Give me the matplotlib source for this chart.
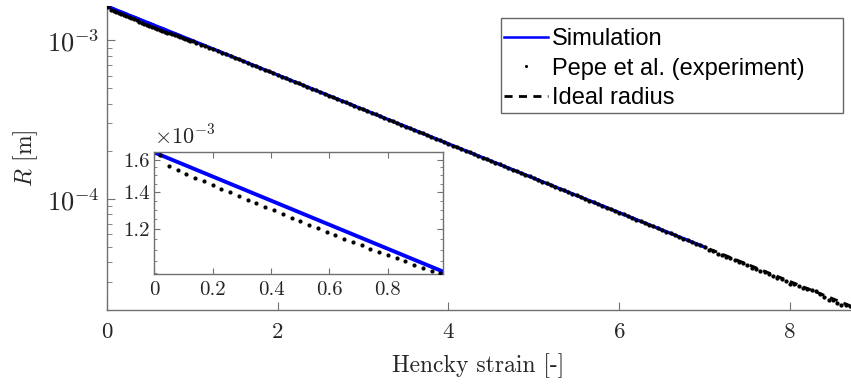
import matplotlib
matplotlib.use("Agg")
import matplotlib.pyplot as plt
from matplotlib.ticker import FixedLocator, FuncFormatter, NullFormatter, LogLocator
from matplotlib.patches import Rectangle

# ---------------- data (radius in units of 1e-3 m) ----------------
SIM_STRAIN = [0.0, 0.5, 1.0, 1.5, 2.0, 2.5, 3.0, 3.5, 4.0, 4.5, 5.0, 5.5, 6.0, 6.5, 7.0]
SIM_R_MM = [1.6500, 1.2850, 1.0008, 0.7794, 0.6070, 0.4727, 0.3682, 0.2867, 0.2233,
            0.1739, 0.1354, 0.1055, 0.08215, 0.06398, 0.04983]

IDEAL_STRAIN = [0.0, 8.7]
IDEAL_R_MM = [1.6500, 0.02130]

EXP_STRAIN = [
    0.02, 0.05, 0.08, 0.11, 0.14, 0.17, 0.20, 0.23, 0.26, 0.29, 0.32, 0.35, 0.38, 0.41,
    0.44, 0.47, 0.50, 0.53, 0.56, 0.59, 0.62, 0.65, 0.68, 0.71, 0.74, 0.77, 0.80, 0.83,
    0.86, 0.89, 0.92, 0.95, 0.98, 1.01,
    1.05, 1.10, 1.15, 1.20, 1.25, 1.30, 1.35, 1.40, 1.45, 1.50, 1.55, 1.60, 1.65, 1.70,
    1.75, 1.80, 1.85, 1.90, 1.95, 2.00, 2.05, 2.10, 2.15, 2.20, 2.25, 2.30, 2.35, 2.40,
    2.45, 2.50, 2.55, 2.60, 2.65, 2.70, 2.75, 2.80, 2.85, 2.90, 2.95, 3.00, 3.05, 3.10,
    3.15, 3.20, 3.25, 3.30, 3.35, 3.40, 3.45, 3.50, 3.55, 3.60, 3.65, 3.70, 3.75, 3.80,
    3.85, 3.90, 3.95, 4.00, 4.05, 4.10, 4.15, 4.20, 4.25, 4.30, 4.35, 4.40, 4.45, 4.50,
    4.55, 4.60, 4.65, 4.70, 4.75, 4.80, 4.85, 4.90, 4.95, 5.00, 5.05, 5.10, 5.15, 5.20,
    5.25, 5.30, 5.35, 5.40, 5.45, 5.50, 5.55, 5.60, 5.65, 5.70, 5.75, 5.80, 5.85, 5.90,
    5.95, 6.00, 6.05, 6.10, 6.15, 6.20, 6.25, 6.30, 6.35, 6.40, 6.45, 6.50, 6.55, 6.60,
    6.65, 6.70, 6.75, 6.80, 6.85, 6.90, 6.95, 7.00, 7.05, 7.10, 7.15, 7.20, 7.25, 7.30,
    7.35, 7.40, 7.45, 7.50, 7.55, 7.60, 7.65, 7.70, 7.75, 7.80, 7.85, 7.90, 7.95, 8.00,
    8.05, 8.10, 8.15, 8.20, 8.25, 8.30, 8.35, 8.40, 8.45, 8.50, 8.55, 8.60, 8.65, 8.70,
]
EXP_R_MM = [
    1.634, 1.561, 1.531, 1.507, 1.485, 1.463, 1.441, 1.419, 1.398, 1.377, 1.357, 1.337,
    1.317, 1.297, 1.278, 1.259, 1.240, 1.222, 1.204, 1.186, 1.169, 1.153, 1.137, 1.122,
    1.107, 1.093, 1.078, 1.064, 1.050, 1.036, 1.023, 1.010, 0.9985, 0.9858,
    0.9663, 0.9425, 0.9192, 0.8983, 0.8779, 0.8579, 0.8384, 0.8194, 0.7991, 0.7794,
    0.7602, 0.7414, 0.7231, 0.7052, 0.6878, 0.6708, 0.6543, 0.6381, 0.6224, 0.6070,
    0.5920, 0.5774, 0.5631, 0.5492, 0.5357, 0.5225, 0.5096, 0.4970, 0.4847, 0.4727,
    0.4611, 0.4497, 0.4386, 0.4277, 0.4172, 0.4069, 0.3968, 0.3870, 0.3775, 0.3682,
    0.3591, 0.3502, 0.3416, 0.3331, 0.3249, 0.3169, 0.3091, 0.3014, 0.2940, 0.2867,
    0.2796, 0.2727, 0.2660, 0.2594, 0.2530, 0.2468, 0.2407, 0.2348, 0.2290, 0.2233,
    0.2178, 0.2124, 0.2072, 0.2021, 0.1971, 0.1922, 0.1875, 0.1828, 0.1783, 0.1739,
    0.1696, 0.1654, 0.1613, 0.1574, 0.1535, 0.1497, 0.1460, 0.1424, 0.1389, 0.1354,
    0.1321, 0.1288, 0.1257, 0.1226, 0.1195, 0.1166, 0.1137, 0.1109, 0.1082, 0.1055,
    0.1029, 0.1003, 0.09786, 0.09544, 0.09309, 0.09079, 0.08855, 0.08636, 0.08423, 0.08215,
    0.08012, 0.07814, 0.07621, 0.07433, 0.07250, 0.07071, 0.06896, 0.06726, 0.06560, 0.06398,
    0.06240, 0.06086, 0.05935, 0.05789, 0.05646, 0.05507, 0.05371, 0.05238, 0.05109, 0.04983,
    0.04787, 0.04692, 0.04530, 0.04454, 0.04318, 0.04254, 0.04116, 0.03990, 0.03939, 0.03826,
    0.03694, 0.03647, 0.03535, 0.03483, 0.03349, 0.03286, 0.03176, 0.03136, 0.03037, 0.02937,
    0.02903, 0.02846, 0.02742, 0.02702, 0.02662, 0.02627, 0.02524, 0.02412, 0.02329, 0.02302,
    0.02227, 0.02154, 0.02151, 0.02108,
]

MAIN_XTICKS = [0, 2, 4, 6, 8]
INSET_XTICKS = [0, 0.2, 0.4, 0.6, 0.8]
INSET_YTICKS_MM = [1.2, 1.4, 1.6]
INSET_YMINOR_MM = [1.0, 1.05, 1.1, 1.15, 1.25, 1.3, 1.35, 1.45, 1.5, 1.55, 1.65]

LABEL_SIM = "Simulation"
LABEL_EXP = "Pepe et al. (experiment)"
LABEL_IDEAL = "Ideal radius"

# ---------------- style ----------------
plt.rcParams.update({
    "font.family": "serif",
    "font.serif": ["cmr10"],
    "mathtext.fontset": "cm",
    "axes.formatter.use_mathtext": True,
    "axes.unicode_minus": True,
})

SPINE = "#707070"
TXT = "#262626"
BLUE = "#0000ff"
DASH = (0, (2.9, 2.3))

to_m = lambda vals: [v * 1e-3 for v in vals]

fig = plt.figure(figsize=(8.51, 3.87), dpi=100)
W, H = 851.0, 387.0

# ---------------- main axes ----------------
ax = fig.add_axes([106.7 / W, 1 - 310 / H, (850 - 106.7) / W, (310 - 6) / H])
h_ideal, = ax.plot(IDEAL_STRAIN, to_m(IDEAL_R_MM), color="k", ls=DASH, lw=2.0, zorder=1,
                   label=LABEL_IDEAL)
h_sim, = ax.plot(SIM_STRAIN, to_m(SIM_R_MM), color=BLUE, lw=2.3, zorder=2, label=LABEL_SIM)
h_exp, = ax.plot(EXP_STRAIN, to_m(EXP_R_MM), ls="none", marker=".", ms=4.1, color="k",
                 zorder=3, label=LABEL_EXP)
ax.set_yscale("log")
ax.set_xlim(0, 8.7)
ax.set_ylim(2.0e-5, 1.65e-3)
ax.set_xticks(MAIN_XTICKS)
ax.set_xticklabels([str(t) for t in MAIN_XTICKS])
ax.yaxis.set_major_locator(LogLocator(base=10))
ax.yaxis.set_minor_locator(LogLocator(base=10, subs=range(2, 10)))
ax.yaxis.set_minor_formatter(NullFormatter())
for s in ("top", "right"):
    ax.spines[s].set_visible(False)
for s in ("left", "bottom"):
    ax.spines[s].set_color(SPINE)
    ax.spines[s].set_linewidth(1.0)
ax.tick_params(which="both", direction="in", color=SPINE, labelcolor=TXT)
ax.tick_params(axis="x", which="major", length=6, pad=9, labelsize=16.5)
ax.tick_params(axis="y", which="major", length=6, pad=5, labelsize=19)
ax.tick_params(axis="y", which="minor", length=3.5)

ax.set_xlabel("Hencky strain [-]", fontsize=17, color=TXT)
ax.xaxis.set_label_coords(0.5, -0.142)
ax.set_ylabel(r"$R$ [m]", fontsize=17, color=TXT)
ax.yaxis.set_label_coords(-0.09, 0.5)

# legend frame (MATLAB-like with wide right margin)
ax.add_patch(Rectangle((501 / W, 1 - 113 / H), 342 / W, 95 / H, transform=fig.transFigure,
                       facecolor="white", edgecolor="#666666", lw=1.0, zorder=4.5,
                       clip_on=False))
leg = ax.legend(handles=[h_sim, h_exp, h_ideal], loc="upper left",
                bbox_to_anchor=(501 / W, 1 - 25 / H), bbox_transform=fig.transFigure,
                prop={"family": "Liberation Sans", "size": 17}, frameon=False,
                borderpad=0.12, handlelength=1.85, handletextpad=0.2, labelspacing=0.33,
                borderaxespad=0, numpoints=1, markerscale=0.6)
leg.set_zorder(5)
for lh in leg.get_lines():
    if lh.get_color() == BLUE:
        lh.set_linewidth(1.8)

# ---------------- inset ----------------
axin = fig.add_axes([154.3 / W, 1 - 274.3 / H, 289 / W, 122.6 / H])
axin.plot(IDEAL_STRAIN, to_m(IDEAL_R_MM), color="k", ls=DASH, lw=1.5, zorder=1)
axin.plot(SIM_STRAIN, to_m(SIM_R_MM), color=BLUE, lw=2.8, zorder=2)
axin.plot(EXP_STRAIN, to_m(EXP_R_MM), ls="none", marker=".", ms=4.0, color="k", zorder=3)
axin.set_yscale("log")
axin.set_xlim(0, 0.99)
axin.set_ylim(0.995e-3, 1.655e-3)
axin.set_xticks(INSET_XTICKS)
axin.set_xticklabels(["0" if t == 0 else f"{t:.1f}" for t in INSET_XTICKS])
axin.yaxis.set_major_locator(FixedLocator(to_m(INSET_YTICKS_MM)))
axin.yaxis.set_major_formatter(FuncFormatter(lambda v, p: f"{v * 1e3:.1f}"))
axin.yaxis.set_minor_locator(FixedLocator(to_m(INSET_YMINOR_MM)))
axin.yaxis.set_minor_formatter(NullFormatter())
for s in axin.spines.values():
    s.set_color(SPINE)
    s.set_linewidth(1.0)
axin.tick_params(which="both", direction="in", top=True, right=True, color=SPINE,
                 labelcolor=TXT, labelsize=15)
axin.tick_params(which="major", length=4)
axin.tick_params(which="minor", length=2.5)
axin.tick_params(axis="x", pad=5)
axin.tick_params(axis="y", pad=3)
axin.text(0.0, 1.025, r"$\times10^{-3}$", transform=axin.transAxes, fontsize=16,
          ha="left", va="bottom", color=TXT)

fig.savefig("out.png", dpi=100, facecolor="white")
